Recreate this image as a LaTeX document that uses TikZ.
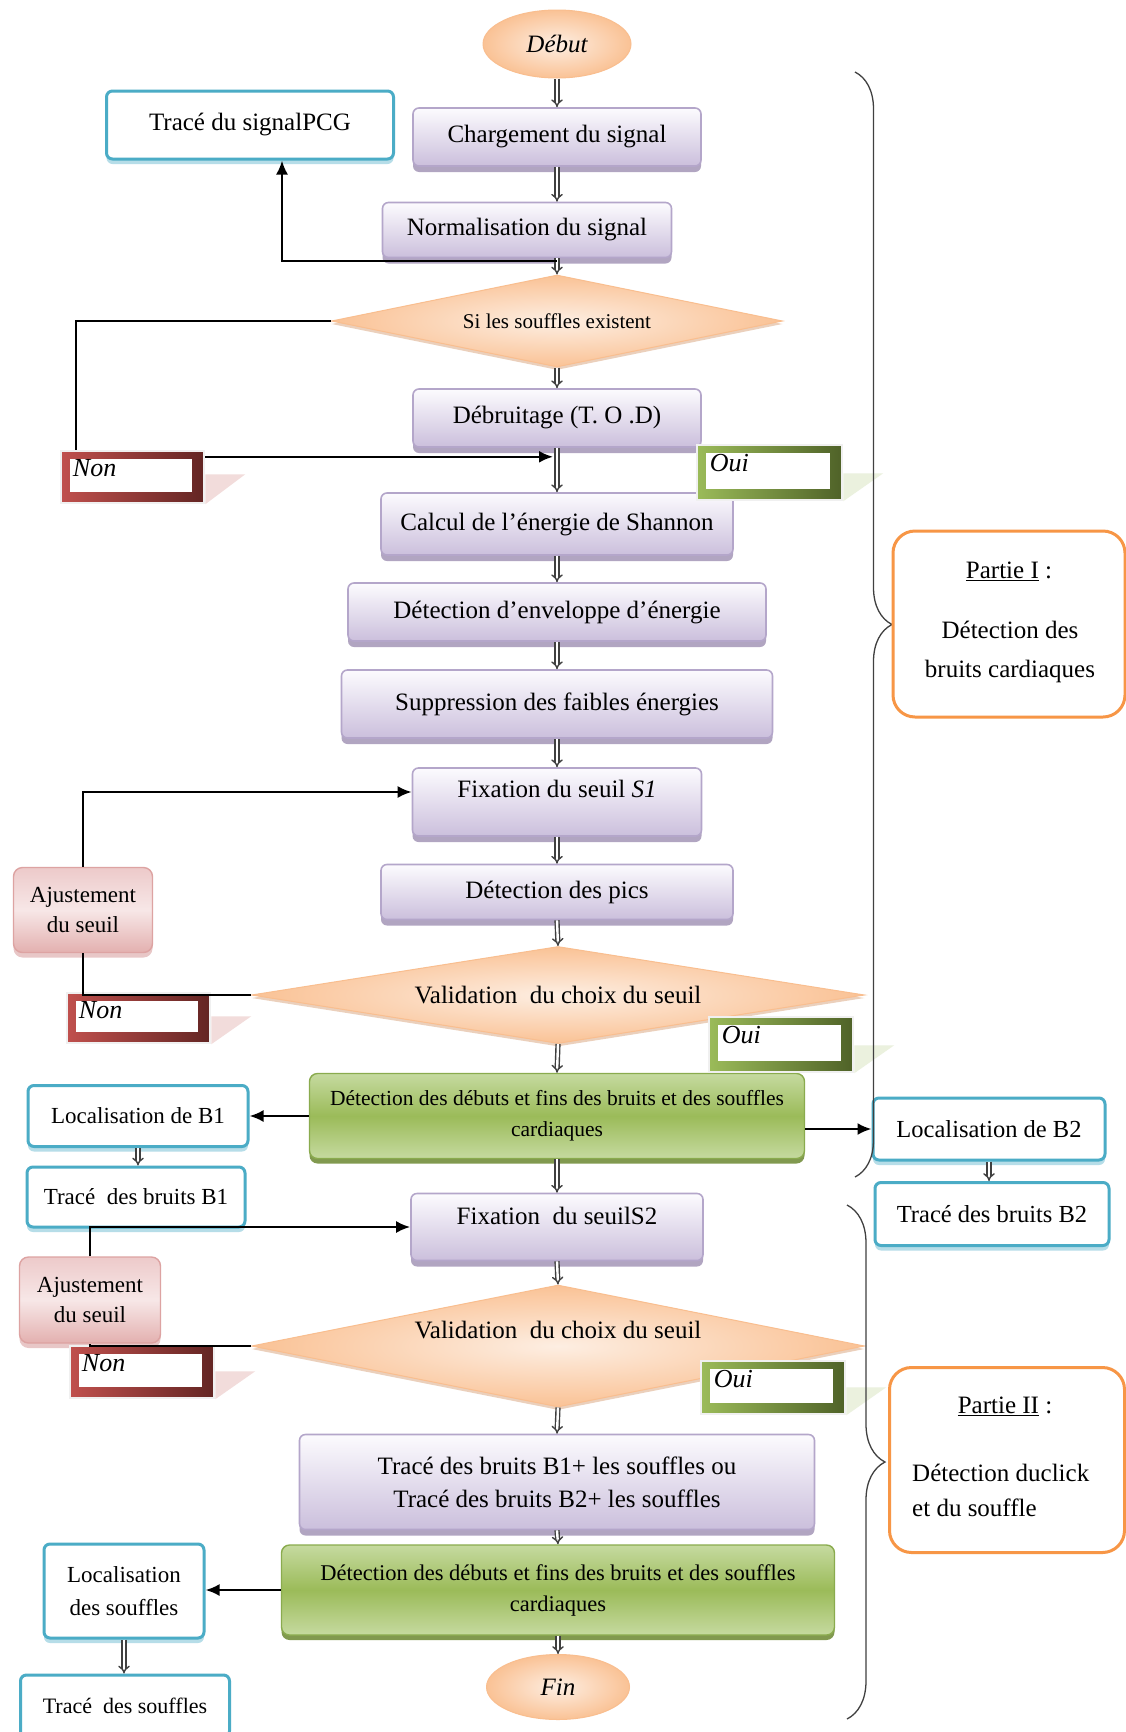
\documentclass[tikz,border=0pt]{standalone}
\usepackage{fontspec}
\setmainfont{Liberation Serif}
\usetikzlibrary{shapes.geometric,arrows.meta,shadows,decorations.pathreplacing}

\definecolor{purTop}{HTML}{FCFBFE}
\definecolor{purBot}{HTML}{CBBFDC}
\definecolor{purDraw}{HTML}{B4A6CA}
\definecolor{purShade}{HTML}{A99CBB}
\definecolor{peachIn}{HTML}{FDEEE2}
\definecolor{peachOut}{HTML}{FAC295}
\definecolor{peachDraw}{HTML}{F9BE8F}
\definecolor{peachShade}{HTML}{D8A27A}
\definecolor{grnLight}{HTML}{C6DAA0}
\definecolor{grnMid}{HTML}{9BBB59}
\definecolor{grnDraw}{HTML}{8AAB4E}
\definecolor{grnShade}{HTML}{748F3C}
\definecolor{bluDraw}{HTML}{4BACC6}
\definecolor{bluShade}{HTML}{B6DDE8}
\definecolor{pnkTop}{HTML}{EDCACA}
\definecolor{pnkMid}{HTML}{F7E7E7}
\definecolor{pnkBot}{HTML}{E3B0AF}
\definecolor{pnkDraw}{HTML}{DDA3A2}
\definecolor{pnkShade}{HTML}{D9A3A2}
\definecolor{orgDraw}{HTML}{F79646}
\definecolor{nonA}{HTML}{C0504D}
\definecolor{nonB}{HTML}{632523}
\definecolor{nonTail}{HTML}{F2DCDB}
\definecolor{ouiA}{HTML}{9BBB59}
\definecolor{ouiB}{HTML}{4F6228}
\definecolor{ouiTail}{HTML}{EBF1DE}

\begin{document}
\begin{tikzpicture}[x=1pt,y=-1pt,
  every node/.style={font=\fontsize{25}{30}\selectfont, inner sep=0pt, align=center},
  proc/.style={rectangle, rounded corners=6pt, draw=purDraw, line width=1.6pt,
    top color=purTop, bottom color=purBot,
    drop shadow={shadow xshift=0pt, shadow yshift=-6pt, fill=purShade, opacity=.9}},
  terminal/.style={ellipse, draw=peachDraw, line width=1pt, inner color=peachIn,
    outer color=peachOut, font=\fontsize{25}{30}\selectfont\itshape},
  decision/.style={diamond, aspect=5, draw=peachDraw, line width=1pt,
    inner color=peachIn, outer color=peachOut,
    drop shadow={shadow xshift=0pt, shadow yshift=-3pt, fill=peachShade, opacity=.5}},
  detectbox/.style={rectangle, rounded corners=8pt, draw=grnDraw, line width=1.4pt,
    top color=grnLight, bottom color=grnLight, middle color=grnMid,
    drop shadow={shadow xshift=0pt, shadow yshift=-5pt, fill=grnShade, opacity=.9},
    font=\fontsize{21.5}{31}\selectfont},
  outbox/.style={rectangle, rounded corners=6pt, draw=bluDraw, line width=3pt, fill=white,
    drop shadow={shadow xshift=0pt, shadow yshift=-5pt, fill=bluShade, opacity=1},
    font=\fontsize{23}{33}\selectfont},
  adjustbox/.style={rectangle, rounded corners=9pt, draw=pnkDraw, line width=1.4pt,
    top color=pnkTop, bottom color=pnkBot, middle color=pnkMid,
    drop shadow={shadow xshift=0pt, shadow yshift=-5pt, fill=pnkShade, opacity=.6},
    font=\fontsize{23}{30}\selectfont},
  partbox/.style={rectangle, rounded corners=22pt, draw=orgDraw, line width=3pt, fill=white},
  tagbox/.style 2 args={rectangle, draw=black!6, line width=2.5pt, left color=#1, right color=#2,
    path picture={\fill[white] ([xshift=9pt,yshift=-8pt]path picture bounding box.north west)
      rectangle ([xshift=-12pt,yshift=11pt]path picture bounding box.south east);}},
  tagtext/.style={font=\fontsize{26}{30}\selectfont\itshape, anchor=north west},
  dbl/.style={draw=black!75, line width=1.4pt, double=white, double distance=2.4pt, -{Implies}},
  link/.style={draw=black, line width=2.3pt},
  arr/.style={link, -{Latex[length=14pt,width=12pt]}},
  brc/.style={draw=black!75, line width=1.3pt, decorate, decoration={brace, amplitude=37pt}},
]
\useasboundingbox (0,0) rectangle (1126,1732);
\fill[white] (0,0) rectangle (1126,1732);

% ---- main column, part I
\node[terminal, minimum width=148pt, minimum height=68pt] (debut) at (557,44) {Début};
\node[proc, minimum width=288pt, minimum height=58pt] (charg) at (557,137) {Chargement du signal};
\node[outbox, minimum width=287pt, minimum height=68pt, font=\fontsize{25}{30}\selectfont] (pcg) at (250,125) {Tracé du signalPCG};
\node[proc, minimum width=289pt, minimum height=55pt] (norm) at (527,230) {Normalisation du signal};
\node[decision, minimum width=451pt, minimum height=92pt, font=\fontsize{21}{25}\selectfont] (d1) at (557,321) {Si les souffles existent};
\node[proc, minimum width=288pt, minimum height=58pt] (debruit) at (557,418) {Débruitage (T. O .D)};
\node[proc, minimum width=352pt, minimum height=62pt] (calc) at (557,524) {Calcul de l'énergie de Shannon};
\node[proc, minimum width=418pt, minimum height=58pt] (env) at (557,612) {Détection d'enveloppe d'énergie};
\node[proc, minimum width=431pt, minimum height=68pt] (supp) at (557,704) {Suppression des faibles énergies};
\node[proc, minimum width=289pt, minimum height=68pt, text height=18pt, text depth=28pt] (fix1) at (557,802) {Fixation du seuil \textit{S1}};
\node[proc, minimum width=352pt, minimum height=55pt] (pics) at (557,892) {Détection des pics};
\node[adjustbox, minimum width=139pt, minimum height=85pt] (ajust1) at (83,910) {Ajustement\\du seuil};
\node[decision, minimum width=613pt, minimum height=97pt] (d2) at (558,995) {Validation\ \ du choix du seuil};
\node[detectbox, minimum width=495pt, minimum height=85pt] (green1) at (557,1116) {Détection des débuts et fins des bruits et des souffles\\cardiaques};
\node[outbox, minimum width=220pt, minimum height=61pt] (loc1) at (138,1116) {Localisation de B1};
\node[outbox, minimum width=218pt, minimum height=60pt] (trace1) at (136,1197) {Tracé\ \ des bruits B1};
\node[outbox, minimum width=232pt, minimum height=62pt, font=\fontsize{24.5}{30}\selectfont] (loc2) at (989,1129) {Localisation de B2};
\node[outbox, minimum width=234pt, minimum height=63pt, font=\fontsize{24.5}{30}\selectfont] (trace2) at (992,1214) {Tracé des bruits B2};

% ---- main column, part II
\node[proc, minimum width=292pt, minimum height=67pt, text height=18pt, text depth=24pt] (fix2) at (557,1227) {Fixation\ \ du seuilS2};
\node[adjustbox, minimum width=141pt, minimum height=86pt] (ajust2) at (90,1300) {Ajustement\\du seuil};
\node[decision, minimum width=613pt, minimum height=122pt, text height=18pt, text depth=34pt] (d3) at (558,1346) {Validation\ \ du choix du seuil};
\node[proc, minimum width=515pt, minimum height=95pt, font=\fontsize{25}{33}\selectfont] (traceB) at (557,1482) {Tracé des bruits B1+ les souffles ou\\Tracé des bruits B2+ les souffles};
\node[detectbox, minimum width=553pt, minimum height=90pt, font=\fontsize{22.5}{31}\selectfont] (green2) at (558,1590) {Détection des débuts et fins des bruits et des souffles\\cardiaques};
\node[outbox, minimum width=160pt, minimum height=94pt] (locs) at (124,1591) {Localisation\\des souffles};
\node[outbox, minimum width=209pt, minimum height=62pt, font=\fontsize{22}{30}\selectfont] (traces) at (125,1706) {Tracé\ \ des souffles};
\node[terminal, minimum width=143pt, minimum height=65pt] (fin) at (558,1687) {Fin};

% ---- yes / no tags
\node[tagbox={nonA}{nonB}, minimum width=143pt, minimum height=52pt] (non1) at (132.5,477) {};
\fill[nonTail] ([yshift=30pt]non1.south east) -- ++(40,0) -- (non1.south east) -- cycle;
\node[tagtext] (non1t) at ([xshift=13pt,yshift=-10pt]non1.north west) {Non};

\node[tagbox={ouiA}{ouiB}, minimum width=145pt, minimum height=55pt] (oui1) at (769.5,472.5) {};
\fill[ouiTail] ([yshift=28pt]oui1.south east) -- ++(40,0) -- (oui1.south east) -- cycle;
\node[tagtext] (oui1t) at ([xshift=14pt,yshift=-10pt]oui1.north west) {Oui};

\node[tagbox={nonA}{nonB}, minimum width=143pt, minimum height=50pt] (non2) at (138.5,1018) {};
\fill[nonTail] ([yshift=28pt]non2.south east) -- ++(40,0) -- (non2.south east) -- cycle;
\node[tagtext] (non2t) at ([xshift=13pt,yshift=-10pt]non2.north west) {Non};

\node[tagbox={ouiA}{ouiB}, minimum width=144pt, minimum height=55pt] (oui2) at (781,1044.5) {};
\fill[ouiTail] ([yshift=28pt]oui2.south east) -- ++(40,0) -- (oui2.south east) -- cycle;
\node[tagtext] (oui2t) at ([xshift=14pt,yshift=-10pt]oui2.north west) {Oui};

\node[tagbox={nonA}{nonB}, minimum width=144pt, minimum height=52pt] (non3) at (142,1372) {};
\fill[nonTail] ([yshift=28pt]non3.south east) -- ++(40,0) -- (non3.south east) -- cycle;
\node[tagtext] (non3t) at ([xshift=13pt,yshift=-10pt]non3.north west) {Non};

\node[tagbox={ouiA}{ouiB}, minimum width=144pt, minimum height=53pt] (oui3) at (773,1387.5) {};
\fill[ouiTail] ([yshift=28pt]oui3.south east) -- ++(40,0) -- (oui3.south east) -- cycle;
\node[tagtext] (oui3t) at ([xshift=14pt,yshift=-10pt]oui3.north west) {Oui};

% ---- flow arrows
\draw[dbl] (debut.south) -- (charg.north);
\draw[dbl] (charg.south) -- (charg.south |- norm.north);
\draw[dbl] (d1.north |- norm.south) -- (d1.north);
\draw[dbl] (d1.south) -- (debruit.north);
\draw[dbl] (debruit.south) -- (calc.north);
\draw[dbl] (calc.south) -- (env.north);
\draw[dbl] (env.south) -- (supp.north);
\draw[dbl] (supp.south) -- (fix1.north);
\draw[dbl] (fix1.south) -- (pics.north);
\draw[dbl] (pics.south) -- (d2.north);
\draw[dbl] (d2.south) -- (green1.north);
\draw[dbl] (green1.south) -- (fix2.north);
\draw[dbl] (fix2.south) -- (d3.north);
\draw[dbl] (d3.south) -- (traceB.north);
\draw[dbl] (traceB.south) -- (green2.north);
\draw[dbl] (green2.south) -- (fin.north);
\draw[dbl] (loc1.south) -- (loc1.south |- trace1.north);
\draw[dbl] (loc2.south) -- (loc2.south |- trace2.north);
\draw[dbl] (locs.south) -- (locs.south |- traces.north);

% ---- side connections
\coordinate[yshift=-3pt] (jn) at (norm.south -| d1.north);
\draw[arr] (jn) -| ([xshift=32pt]pcg.south);
\draw[link] (d1.west) -| ([xshift=16pt]non1.north west);
\coordinate[yshift=-9pt] (jd) at (debruit.south);
\draw[arr] (non1.east |- jd) -- ([xshift=-4pt]jd);
\draw[arr] (ajust1.north) |- ([yshift=10pt]fix1.west);
\draw[link] (d2.west) -| (ajust1.south);
\draw[arr] (green1.west) -- (green1.west -| loc1.east);
\draw[arr] (green1.east |- loc2.west) -- (loc2.west);
\draw[arr] (ajust2.north) |- (fix2.west);
\draw[link] (d3.west) -| (ajust2.south);
\draw[arr] (green2.west) -- (green2.west -| locs.east);

% ---- part braces and captions
\draw[brc] (855,72) -- (855,1177);
\draw[brc, decoration={brace, amplitude=38pt}] (847,1205) -- (847,1719);

\node[partbox, minimum width=232pt, minimum height=186pt] (p1) at (1009,624) {};
\node (p1t) at (1009,571) {\underline{Partie I} :};
\node[font=\fontsize{25}{39}\selectfont] (p1b) at (1010,652) {Détection des\\bruits cardiaques};

\node[partbox, minimum width=235pt, minimum height=185pt] (p2) at (1007,1460) {};
\node (p2t) at (1005,1406) {\underline{Partie II} :};
\node[font=\fontsize{25}{35}\selectfont, align=left, anchor=west] (p2b) at (912,1490) {Détection duclick\\et du souffle};
\end{tikzpicture}
\end{document}
